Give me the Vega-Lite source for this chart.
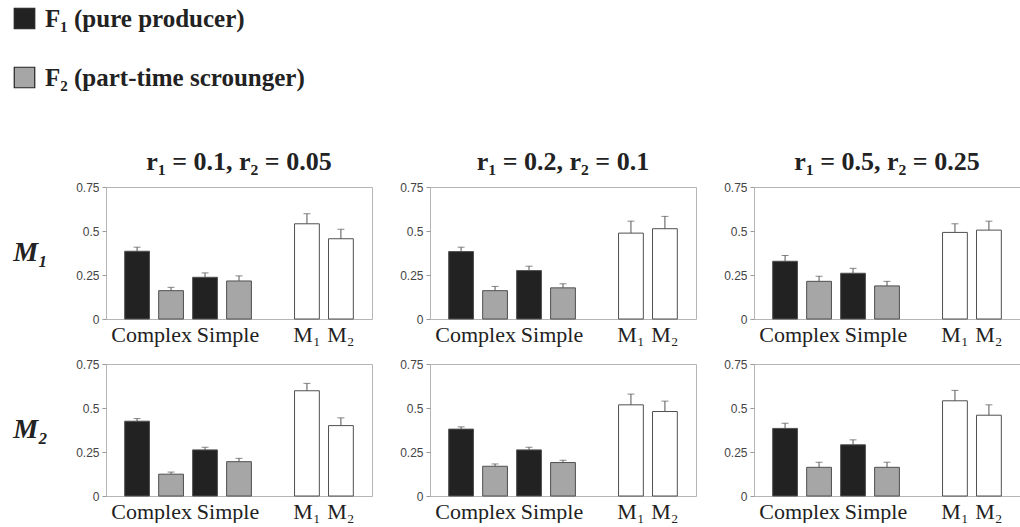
{
  "$schema": "https://vega.github.io/schema/vega-lite/v6.json",
  "padding": {"left": 12, "top": 6, "right": 0, "bottom": 0},
  "background": "white",
  "data": {"values": [
    {"row": "M₁", "col": "r₁ = 0.1, r₂ = 0.05", "cat": "c1", "grp": "F1", "value": 0.385, "upper": 0.408},
    {"row": "M₁", "col": "r₁ = 0.1, r₂ = 0.05", "cat": "c2", "grp": "F2", "value": 0.161, "upper": 0.18},
    {"row": "M₁", "col": "r₁ = 0.1, r₂ = 0.05", "cat": "s1", "grp": "F1", "value": 0.237, "upper": 0.262},
    {"row": "M₁", "col": "r₁ = 0.1, r₂ = 0.05", "cat": "s2", "grp": "F2", "value": 0.216, "upper": 0.245},
    {"row": "M₁", "col": "r₁ = 0.1, r₂ = 0.05", "cat": "m1", "grp": "M", "value": 0.541, "upper": 0.598},
    {"row": "M₁", "col": "r₁ = 0.1, r₂ = 0.05", "cat": "m2", "grp": "M", "value": 0.456, "upper": 0.51},
    {"row": "M₁", "col": "r₁ = 0.2, r₂ = 0.1", "cat": "c1", "grp": "F1", "value": 0.383, "upper": 0.408},
    {"row": "M₁", "col": "r₁ = 0.2, r₂ = 0.1", "cat": "c2", "grp": "F2", "value": 0.161, "upper": 0.185},
    {"row": "M₁", "col": "r₁ = 0.2, r₂ = 0.1", "cat": "s1", "grp": "F1", "value": 0.275, "upper": 0.3},
    {"row": "M₁", "col": "r₁ = 0.2, r₂ = 0.1", "cat": "s2", "grp": "F2", "value": 0.177, "upper": 0.2},
    {"row": "M₁", "col": "r₁ = 0.2, r₂ = 0.1", "cat": "m1", "grp": "M", "value": 0.488, "upper": 0.556},
    {"row": "M₁", "col": "r₁ = 0.2, r₂ = 0.1", "cat": "m2", "grp": "M", "value": 0.513, "upper": 0.583},
    {"row": "M₁", "col": "r₁ = 0.5, r₂ = 0.25", "cat": "c1", "grp": "F1", "value": 0.328, "upper": 0.361},
    {"row": "M₁", "col": "r₁ = 0.5, r₂ = 0.25", "cat": "c2", "grp": "F2", "value": 0.214, "upper": 0.243},
    {"row": "M₁", "col": "r₁ = 0.5, r₂ = 0.25", "cat": "s1", "grp": "F1", "value": 0.26, "upper": 0.288},
    {"row": "M₁", "col": "r₁ = 0.5, r₂ = 0.25", "cat": "s2", "grp": "F2", "value": 0.188, "upper": 0.214},
    {"row": "M₁", "col": "r₁ = 0.5, r₂ = 0.25", "cat": "m1", "grp": "M", "value": 0.492, "upper": 0.541},
    {"row": "M₁", "col": "r₁ = 0.5, r₂ = 0.25", "cat": "m2", "grp": "M", "value": 0.505, "upper": 0.556},
    {"row": "M₂", "col": "r₁ = 0.1, r₂ = 0.05", "cat": "c1", "grp": "F1", "value": 0.425, "upper": 0.44},
    {"row": "M₂", "col": "r₁ = 0.1, r₂ = 0.05", "cat": "c2", "grp": "F2", "value": 0.124, "upper": 0.136},
    {"row": "M₂", "col": "r₁ = 0.1, r₂ = 0.05", "cat": "s1", "grp": "F1", "value": 0.262, "upper": 0.277},
    {"row": "M₂", "col": "r₁ = 0.1, r₂ = 0.05", "cat": "s2", "grp": "F2", "value": 0.195, "upper": 0.214},
    {"row": "M₂", "col": "r₁ = 0.1, r₂ = 0.05", "cat": "m1", "grp": "M", "value": 0.598, "upper": 0.64},
    {"row": "M₂", "col": "r₁ = 0.1, r₂ = 0.05", "cat": "m2", "grp": "M", "value": 0.4, "upper": 0.444},
    {"row": "M₂", "col": "r₁ = 0.2, r₂ = 0.1", "cat": "c1", "grp": "F1", "value": 0.38, "upper": 0.393},
    {"row": "M₂", "col": "r₁ = 0.2, r₂ = 0.1", "cat": "c2", "grp": "F2", "value": 0.169, "upper": 0.182},
    {"row": "M₂", "col": "r₁ = 0.2, r₂ = 0.1", "cat": "s1", "grp": "F1", "value": 0.262, "upper": 0.277},
    {"row": "M₂", "col": "r₁ = 0.2, r₂ = 0.1", "cat": "s2", "grp": "F2", "value": 0.19, "upper": 0.203},
    {"row": "M₂", "col": "r₁ = 0.2, r₂ = 0.1", "cat": "m1", "grp": "M", "value": 0.518, "upper": 0.579},
    {"row": "M₂", "col": "r₁ = 0.2, r₂ = 0.1", "cat": "m2", "grp": "M", "value": 0.48, "upper": 0.539},
    {"row": "M₂", "col": "r₁ = 0.5, r₂ = 0.25", "cat": "c1", "grp": "F1", "value": 0.384, "upper": 0.413},
    {"row": "M₂", "col": "r₁ = 0.5, r₂ = 0.25", "cat": "c2", "grp": "F2", "value": 0.163, "upper": 0.192},
    {"row": "M₂", "col": "r₁ = 0.5, r₂ = 0.25", "cat": "s1", "grp": "F1", "value": 0.291, "upper": 0.319},
    {"row": "M₂", "col": "r₁ = 0.5, r₂ = 0.25", "cat": "s2", "grp": "F2", "value": 0.163, "upper": 0.192},
    {"row": "M₂", "col": "r₁ = 0.5, r₂ = 0.25", "cat": "m1", "grp": "M", "value": 0.541, "upper": 0.6},
    {"row": "M₂", "col": "r₁ = 0.5, r₂ = 0.25", "cat": "m2", "grp": "M", "value": 0.459, "upper": 0.518}
  ]},
  "facet": {
    "row": {"field": "row", "type": "nominal", "sort": ["M₁", "M₂"],
      "header": {"title": null, "labelAngle": 0, "labelOrient": "left", "labelAlign": "left",
        "labelFont": "Liberation Serif", "labelFontSize": 28, "labelFontStyle": "italic", "labelFontWeight": "bold", "labelColor": "#222", "labelPadding": 58}},
    "column": {"field": "col", "type": "nominal", "sort": ["r₁ = 0.1, r₂ = 0.05", "r₁ = 0.2, r₂ = 0.1", "r₁ = 0.5, r₂ = 0.25"],
      "header": {"title": null, "labelFont": "Liberation Serif", "labelFontSize": 26, "labelFontWeight": "bold", "labelColor": "#222", "labelPadding": 12}}
  },
  "spacing": {"row": 45, "column": 58},
  "bounds": "flush",
  "resolve": {"axis": {"x": "independent", "y": "independent"}},
  "spec": {
    "width": 266,
    "height": 132,
    "layer": [
      {
        "mark": {"type": "bar", "stroke": "#505050", "strokeWidth": 1},
        "encoding": {
          "x": {"field": "cat", "type": "nominal",
            "scale": {"domain": ["c1", "c2", "s1", "s2", "gap", "m1", "m2"], "paddingInner": 0.27, "paddingOuter": 0.55},
            "axis": {"title": null, "ticks": false, "domain": false, "labelAngle": 0, "labelOverlap": false,
              "labelFont": "Liberation Serif", "labelFontSize": 22, "labelColor": "#222", "labelPadding": 5,
              "labelExpr": "datum.value == 'c1' ? 'Complex' : datum.value == 's1' ? 'Simple' : datum.value == 'm1' ? 'M₁' : datum.value == 'm2' ? 'M₂' : ''",
              "labelOffset": {"condition": [{"test": "datum.value == 'c1'", "value": 14.5}, {"test": "datum.value == 's1'", "value": 23}], "value": 0}}},
          "y": {"field": "value", "type": "quantitative",
            "scale": {"domain": [0, 0.75], "nice": false},
            "axis": {"title": null, "values": [0, 0.25, 0.5, 0.75], "labelExpr": "format(datum.value, '.2~f')", "grid": false, "domain": false,
              "tickColor": "#999", "tickSize": 4, "labelFont": "Liberation Sans", "labelFontSize": 12, "labelColor": "#444", "labelPadding": 3}},
          "fill": {"field": "grp", "type": "nominal",
            "scale": {"domain": ["F1", "F2", "M"], "range": ["#222222", "#a6a6a6", "#ffffff"]},
            "legend": {"title": null, "values": ["F1", "F2"], "orient": "none", "legendX": -94, "legendY": -181, "direction": "vertical", "padding": 0,
              "labelExpr": "datum.value == 'F1' ? 'F₁ (pure producer)' : 'F₂ (part-time scrounger)'",
              "symbolType": "square", "symbolSize": 420, "symbolStrokeColor": "#222", "symbolStrokeWidth": 1,
              "labelFont": "Liberation Serif", "labelFontSize": 25, "labelFontWeight": "bold", "labelColor": "#222", "labelLimit": 500,
              "rowPadding": 32, "labelOffset": 8,
              "encode": {"symbols": {"update": {"fill": {"signal": "datum.value == 'F1' ? '#050505' : '#808080'"}, "stroke": {"value": "#222"}, "strokeWidth": {"value": 1.2}}}}}}
        }
      },
      {
        "mark": {"type": "rule", "color": "#555", "strokeWidth": 1},
        "encoding": {
          "x": {"field": "cat", "type": "nominal"},
          "y": {"field": "value", "type": "quantitative"},
          "y2": {"field": "upper"}
        }
      },
      {
        "mark": {"type": "tick", "color": "#555", "size": 7, "thickness": 1},
        "encoding": {
          "x": {"field": "cat", "type": "nominal"},
          "y": {"field": "upper", "type": "quantitative"}
        }
      }
    ]
  },
  "config": {
    "view": {"stroke": "#b5b5b5", "strokeWidth": 1}
  }
}
